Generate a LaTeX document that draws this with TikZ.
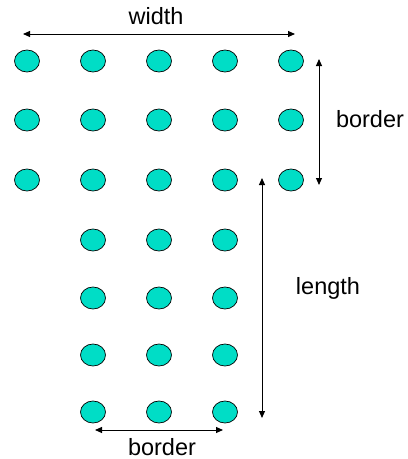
\documentclass[tikz,border=0pt]{standalone}
\usepackage{fontspec}
\setmainfont{Liberation Sans}
\usetikzlibrary{shapes.geometric,arrows.meta}
\definecolor{dotfill}{RGB}{0,221,198}
\tikzset{
  dot/.style={ellipse, draw=black, line width=0.7pt, fill=dotfill,
    minimum width=25pt, minimum height=22pt, inner sep=0pt},
  dim/.style={line width=1pt, {Triangle[length=7pt,width=6pt]}-{Triangle[length=7pt,width=6pt]}},
  lbl/.style={font=\fontsize{23.5}{26}\selectfont, inner sep=0pt}
}
\begin{document}
\begin{tikzpicture}[x=1pt,y=-1pt]
  \useasboundingbox (0,0) rectangle (408,459);
  % upper block: three full rows of five
  \foreach \c/\x in {1/27,2/93,3/159,4/225,5/291}{
    \foreach \r/\y in {1/61,2/120,3/180}{
      \node[dot] (d\r\c) at (\x,\y) {};
    }
  }
  % stem: four rows of three
  \foreach \c/\x in {2/93,3/159,4/225}{
    \foreach \r/\y in {4/240,5/298,6/355,7/412}{
      \node[dot] (d\r\c) at (\x,\y) {};
    }
  }
  % dimension end points
  \coordinate (wL) at (23,34);   \coordinate (wR) at (295,34);
  \coordinate (bT) at (319,59);  \coordinate (bB) at (319,185);
  \coordinate (lT) at (262,178); \coordinate (lB) at (262,418);
  \coordinate (sL) at (95,430);  \coordinate (sR) at (223,430);
  \draw[dim] (wL) -- (wR);
  \draw[dim] (bT) -- (bB);
  \draw[dim] (lT) -- (lB);
  \draw[dim] (sL) -- (sR);
  % labels
  \node[lbl] (tw) at (156,16) {width};
  \node[lbl] (tb) at (370,119) {border};
  \node[lbl] (tl) at (328,288) {length};
  \node[lbl] (ts) at (162,447) {border};
\end{tikzpicture}
\end{document}
